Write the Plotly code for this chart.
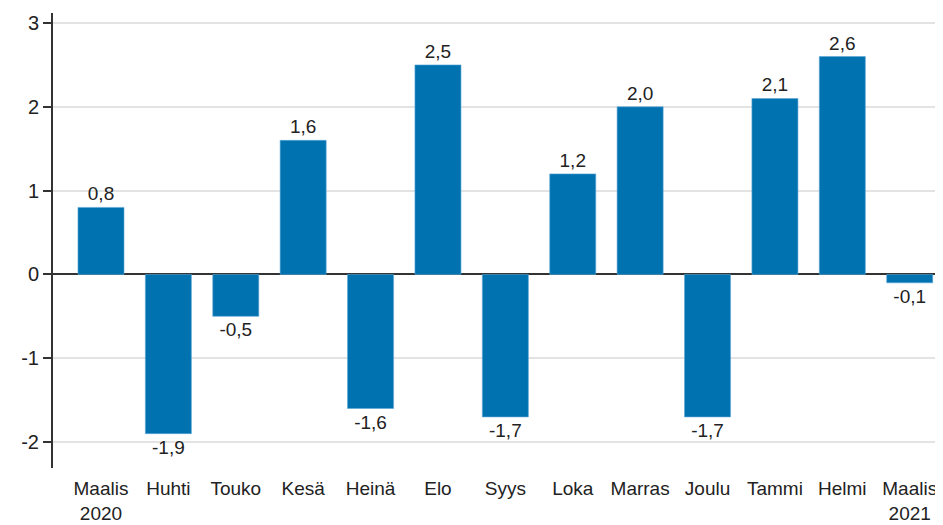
import plotly.graph_objects as go

categories = ["Maalis<br>2020", "Huhti", "Touko", "Kesä", "Heinä", "Elo", "Syys",
              "Loka", "Marras", "Joulu", "Tammi", "Helmi", "Maalis<br>2021"]
values = [0.8, -1.9, -0.5, 1.6, -1.6, 2.5, -1.7, 1.2, 2.0, -1.7, 2.1, 2.6, -0.1]
labels = [f"{v:.1f}".replace(".", ",") for v in values]
ytick_vals = [-2, -1, 0, 1, 2, 3]

FONT = "Liberation Sans, Arial"

fig = go.Figure(go.Bar(
    x=list(range(len(categories))), y=values, text=labels,
    textposition="outside", cliponaxis=False,
    textfont=dict(family=FONT, size=19, color="#222"),
    marker=dict(color="#0072B0", line=dict(color="#5aa6d6", width=0.6)),
    width=0.683,
))

fig.update_layout(
    width=935, height=517,
    margin=dict(l=45, r=0, t=5, b=57, autoexpand=False),
    plot_bgcolor="white", paper_bgcolor="white",
    showlegend=False,
    font=dict(family=FONT, size=19, color="#222"),
    xaxis=dict(
        automargin=False,
        tickmode="array", tickvals=list(range(len(categories))), ticktext=categories,
        range=[-0.712, 12.494], showgrid=False, showline=False,
        ticks="outside", ticklen=3, tickcolor="rgba(0,0,0,0)",
        tickfont=dict(family=FONT, size=19, color="#222"),
    ),
    yaxis=dict(
        automargin=False,
        range=[-2.31, 3.12], tickvals=ytick_vals,
        ticktext=[str(v) for v in ytick_vals],
        showgrid=True, gridcolor="#e3e3e3", gridwidth=1.5,
        zeroline=True, zerolinecolor="#333", zerolinewidth=1.5,
        showline=True, linecolor="#333", linewidth=2,
        ticks="outside", ticklen=8, tickcolor="#333", tickwidth=1.5,
        tickfont=dict(family=FONT, size=20, color="#222"),
    ),
)

fig.write_html("out.html")
